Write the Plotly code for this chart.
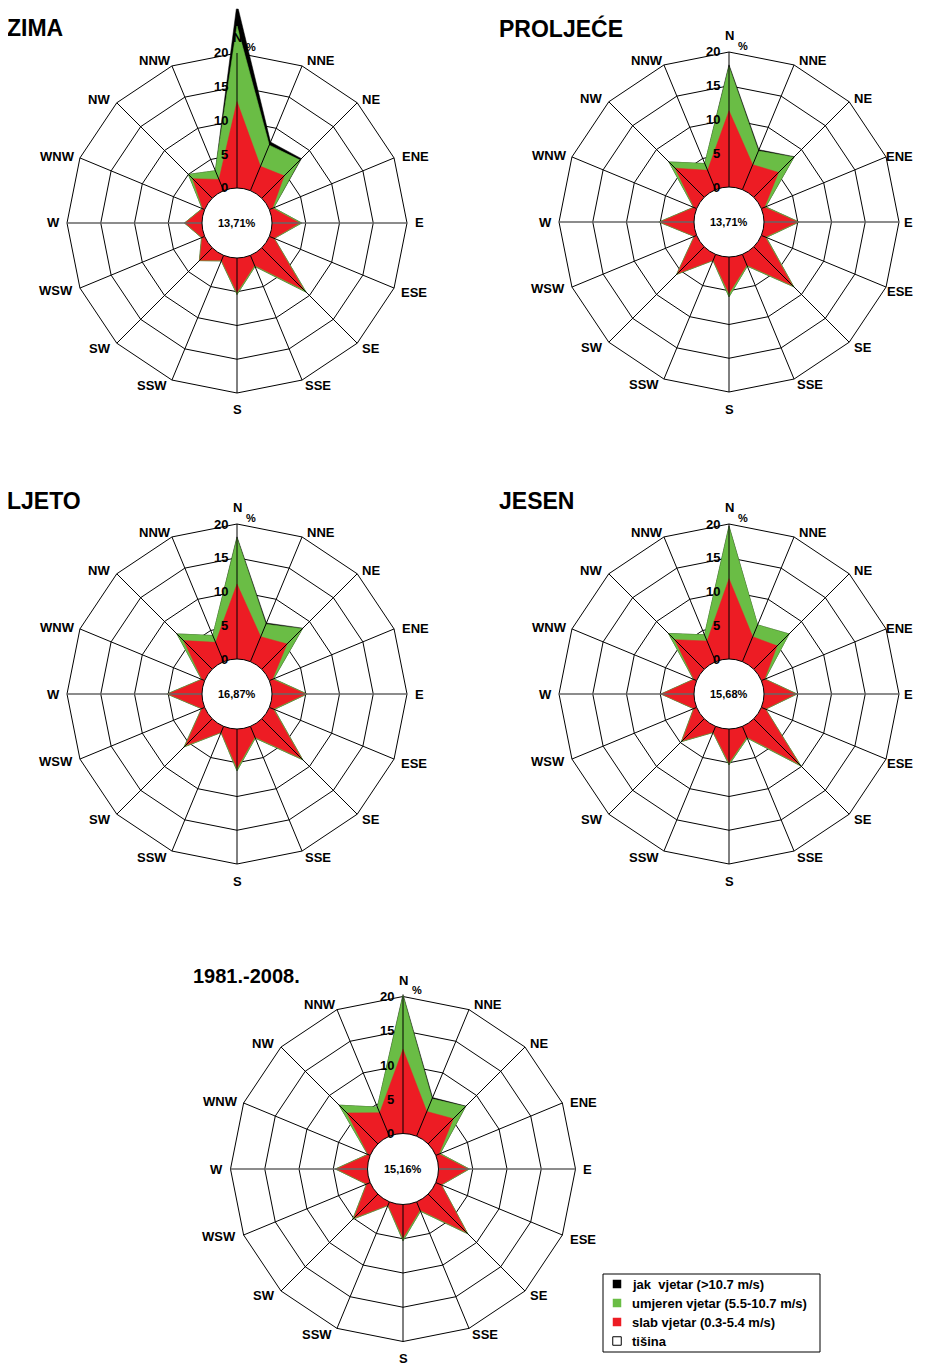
import numpy as np
import plotly.graph_objects as go

W, H = 925, 1369
OFF = 8  # the page body margin shifts the figure by 8 px; geometry below is in page pixels
RIGHT_LIMIT = 915  # right-most visible page pixel for text
FONT = "Liberation Sans, Arial, Helvetica, sans-serif"

# ---------------- data ----------------
DIRS = ["N", "NNE", "NE", "ENE", "E", "ESE", "SE", "SSE",
        "S", "SSW", "SW", "WSW", "W", "WNW", "NW", "NNW"]
RADIAL_TICKS = [0, 5, 10, 15, 20]

# frequencies (%) per direction: slab (0.3-5.4), umjeren (5.5-10.7), jak (>10.7)
zima_slab    = [12.8, 3.9, 4.7, 0.5, 4.1, 0.7, 8.8, 1.6, 5.1, 0.8, 2.6, 0.4, 2.5, 0.3, 4.1, 1.8]
zima_umjeren = [11.2, 3.4, 3.3, 0.2, 0.3, 0.1, 0.5, 0.2, 0.3, 0.1, 0.1, 0.1, 0.1, 0.1, 0.9, 1.4]
zima_jak     = [3.3, 0.5, 0.3, 0.0, 0.0, 0.0, 0.0, 0.0, 0.0, 0.0, 0.0, 0.0, 0.0, 0.0, 0.0, 0.0]

proljece_slab    = [11.3, 4.0, 5.2, 0.5, 5.0, 0.6, 8.1, 1.7, 5.4, 0.9, 5.6, 0.3, 5.0, 0.4, 6.1, 3.1]
proljece_umjeren = [6.5, 2.2, 3.2, 0.2, 0.2, 0.2, 0.3, 0.2, 0.5, 0.1, 0.2, 0.1, 0.2, 0.1, 1.3, 1.1]
proljece_jak     = [0.3, 0.2, 0.1, 0.0, 0.0, 0.0, 0.0, 0.0, 0.0, 0.0, 0.0, 0.0, 0.0, 0.0, 0.0, 0.0]

ljeto_slab    = [11.1, 4.0, 5.3, 0.5, 5.0, 0.6, 8.3, 1.7, 5.8, 0.9, 5.6, 0.4, 5.0, 0.4, 6.0, 3.1]
ljeto_umjeren = [6.8, 2.0, 3.2, 0.2, 0.2, 0.2, 0.3, 0.2, 0.4, 0.1, 0.3, 0.1, 0.2, 0.1, 1.4, 1.1]
ljeto_jak     = [0.2, 0.2, 0.1, 0.0, 0.0, 0.0, 0.0, 0.0, 0.0, 0.0, 0.0, 0.0, 0.0, 0.0, 0.0, 0.0]

jesen_slab    = [11.9, 4.0, 4.9, 0.5, 4.7, 0.6, 9.5, 1.7, 5.0, 0.9, 4.6, 0.4, 4.8, 0.4, 6.2, 3.3]
jesen_umjeren = [7.7, 1.9, 2.5, 0.1, 0.2, 0.1, 0.4, 0.2, 0.3, 0.1, 0.2, 0.1, 0.1, 0.1, 1.3, 1.0]
jesen_jak     = [0.1, 0.0, 0.0, 0.0, 0.0, 0.0, 0.0, 0.0, 0.0, 0.0, 0.0, 0.0, 0.0, 0.0, 0.0, 0.0]

god_slab    = [12.3, 3.9, 5.2, 0.5, 4.3, 0.8, 7.9, 1.3, 4.9, 0.5, 4.9, 0.5, 4.5, 0.3, 6.4, 3.7]
god_umjeren = [7.8, 2.0, 2.5, 0.2, 0.2, 0.1, 0.3, 0.2, 0.4, 0.1, 0.3, 0.1, 0.2, 0.1, 1.6, 0.9]
god_jak     = [0.2, 0.2, 0.1, 0.0, 0.0, 0.0, 0.0, 0.0, 0.0, 0.0, 0.0, 0.0, 0.0, 0.0, 0.0, 0.0]

titles = ["ZIMA", "PROLJEĆE", "LJETO", "JESEN", "1981.-2008."]
calm = ["13,71%", "13,71%", "16,87%", "15,68%", "15,16%"]
series = [
    (zima_slab, zima_umjeren, zima_jak),
    (proljece_slab, proljece_umjeren, proljece_jak),
    (ljeto_slab, ljeto_umjeren, ljeto_jak),
    (jesen_slab, jesen_umjeren, jesen_jak),
    (god_slab, god_umjeren, god_jak),
]
legend_names = ["jak\u00a0 vjetar (>10.7 m/s)", "umjeren vjetar (5.5-10.7 m/s)",
                "slab vjetar (0.3-5.4 m/s)", "tišina"]

# ---------------- style / layout ----------------
RED, GREEN, BLACK = "#ED1C24", "#6ABD45", "#000000"
legend_colors = [BLACK, GREEN, RED, "white"]
# subplot geometry in page pixels: centre, hole radius, px per unit, radial range max, title
GEOM = [
    dict(cx=237, cy=223, h=35.0, u=6.75, rmax=26.6, tx=7, ty=28, ts=23),
    dict(cx=729, cy=222, h=35.0, u=6.75, rmax=23.6, tx=499, ty=28, ts=23),
    dict(cx=237, cy=694, h=35.0, u=6.75, rmax=23.6, tx=7, ty=501, ts=23),
    dict(cx=729, cy=694, h=35.0, u=6.75, rmax=23.6, tx=499, ty=501, ts=23),
    dict(cx=403, cy=1169, h=35.5, u=6.85, rmax=23.6, tx=193, ty=976, ts=20),
]
# direction-label centre offsets (px) for a rose whose 20 % ring has radius 170 px
LABEL_DX = [0, 84, 134, 178, 182, 177, 134, 81, 0, -85, -137, -181, -184, -180, -138, -82]
LABEL_DY = [-186, -162, -124, -66, 0, 69, 125, 163, 187, 163, 125, 67, 0, -67, -124, -162]


def px(x):
    return (x - OFF) / W


def py(y):
    return 1 - (y - OFF) / H


def closed(v):
    return list(v) + [v[0]]


fig = go.Figure()
layout_polars = {}
annotations = []
shapes = []

for i, (g, (slab, umj, jak)) in enumerate(zip(GEOM, series)):
    sp = "polar" if i == 0 else f"polar{i+1}"
    slab = np.array(slab)
    cum_g = slab + np.array(umj)
    cum_b = cum_g + np.array(jak)
    th = closed(DIRS)

    fig.add_trace(go.Scatterpolar(r=closed(cum_b), theta=th, mode="lines", fill="toself",
                                  fillcolor=BLACK, line=dict(color=BLACK, width=0.5),
                                  subplot=sp, showlegend=False, hoverinfo="skip"))
    fig.add_trace(go.Scatterpolar(r=closed(cum_g), theta=th, mode="lines", fill="toself",
                                  fillcolor=GREEN, line=dict(color=GREEN, width=0.6),
                                  subplot=sp, showlegend=False, hoverinfo="skip"))
    fig.add_trace(go.Scatterpolar(r=closed(slab), theta=th, mode="lines", fill="toself",
                                  fillcolor=RED, line=dict(color=RED, width=0.5),
                                  subplot=sp, showlegend=False, hoverinfo="skip"))
    # spokes from the calm circle to the 20 % ring (W-E axis drawn grey)
    sr, st = [], []
    for d in DIRS:
        if d not in ("E", "W"):
            sr += [0, 20, None]
            st += [d, d, None]
    fig.add_trace(go.Scatterpolar(r=sr, theta=st, mode="lines",
                                  line=dict(color="black", width=1),
                                  subplot=sp, showlegend=False, hoverinfo="skip"))
    fig.add_trace(go.Scatterpolar(r=[0, 20, None, 0, 20], theta=["E", "E", None, "W", "W"],
                                  mode="lines", line=dict(color="#666666", width=1.6),
                                  subplot=sp, showlegend=False, hoverinfo="skip"))

    Ro = g["h"] + g["rmax"] * g["u"]
    cx, cy = g["cx"], g["cy"]
    sc = (g["h"] + 20 * g["u"]) / 170.0
    layout_polars[sp] = dict(
        domain=dict(x=[px(cx - Ro), px(cx + Ro)], y=[py(cy + Ro), py(cy - Ro)]),
        hole=g["h"] / Ro,
        gridshape="linear",
        bgcolor="rgba(0,0,0,0)",
        radialaxis=dict(range=[0, g["rmax"]], tickmode="array", tickvals=[5, 10, 15, 20],
                        showticklabels=False, ticks="", showline=False,
                        gridcolor="black", gridwidth=1),
        angularaxis=dict(type="category", categoryorder="array", categoryarray=DIRS,
                         rotation=90, direction="clockwise",
                         showticklabels=False, ticks="", showline=False, showgrid=False),
    )
    # calm circle
    shapes.append(dict(type="circle", xref="paper", yref="paper", layer="above",
                       x0=px(cx - g["h"]), x1=px(cx + g["h"]),
                       y0=py(cy + g["h"]), y1=py(cy - g["h"]),
                       fillcolor="white", line=dict(color="black", width=1)))
    # direction labels
    for d, dx, dy in zip(DIRS, LABEL_DX, LABEL_DY):
        lx = cx + dx * sc
        half = 4.6 * len(d)
        if lx + half > RIGHT_LIMIT:
            ax, anchor = RIGHT_LIMIT, "right"
        else:
            ax, anchor = lx, "center"
        annotations.append(dict(x=px(ax), y=py(cy + dy * sc), xref="paper", yref="paper",
                                text=d, showarrow=False, xanchor=anchor, yanchor="middle",
                                font=dict(family=FONT, size=13, color="black", weight="bold")))
    # radial scale labels along the N spoke
    for v in RADIAL_TICKS:
        annotations.append(dict(x=px(cx - 7), y=py(cy - (g["h"] + v * g["u"])),
                                xref="paper", yref="paper", text=str(v), showarrow=False,
                                xanchor="right", yanchor="middle",
                                font=dict(family=FONT, size=13, color="black", weight="bold")))
    annotations.append(dict(x=px(cx + 14), y=py(cy - (g["h"] + 20.9 * g["u"])),
                            xref="paper", yref="paper", text="%", showarrow=False,
                            xanchor="center", yanchor="middle",
                            font=dict(family=FONT, size=11, color="black", weight="bold")))
    annotations.append(dict(x=px(cx), y=py(cy), xref="paper", yref="paper",
                            text=calm[i], showarrow=False, xanchor="center", yanchor="middle",
                            font=dict(family=FONT, size=11, color="black", weight="bold")))
    annotations.append(dict(x=px(g["tx"] - 2), y=py(g["ty"]), xref="paper", yref="paper",
                            text=titles[i], showarrow=False, xanchor="left", yanchor="middle",
                            font=dict(family=FONT, size=g["ts"], color="black", weight="bold")))

# ---------------- legend box (bottom right) ----------------
LEG_X0, LEG_Y0, LEG_X1, LEG_Y1 = 603, 1274, 820, 1352
ROW0, ROWSTEP, SQ_X, SQ = 1284, 19, 617, 8.5
shapes.append(dict(type="rect", xref="paper", yref="paper", layer="above",
                   x0=px(LEG_X0), x1=px(LEG_X1), y0=py(LEG_Y1), y1=py(LEG_Y0),
                   fillcolor="white", line=dict(color="black", width=1)))
for k, (name, col) in enumerate(zip(legend_names, legend_colors)):
    yc = ROW0 + k * ROWSTEP
    shapes.append(dict(type="rect", xref="paper", yref="paper", layer="above",
                       x0=px(SQ_X - SQ / 2), x1=px(SQ_X + SQ / 2),
                       y0=py(yc + SQ / 2), y1=py(yc - SQ / 2),
                       fillcolor=col, line=dict(color="black", width=1 if col == "white" else 0)))
    annotations.append(dict(x=px(630), y=py(yc), xref="paper", yref="paper", text=name,
                            showarrow=False, xanchor="left", yanchor="middle",
                            font=dict(family=FONT, size=13, color="black", weight="bold")))

fig.update_layout(
    width=W, height=H,
    margin=dict(l=0, r=0, t=0, b=0),
    paper_bgcolor="white", plot_bgcolor="white",
    annotations=annotations,
    shapes=shapes,
    showlegend=False,
    **layout_polars,
)

fig.write_html("out.html")
